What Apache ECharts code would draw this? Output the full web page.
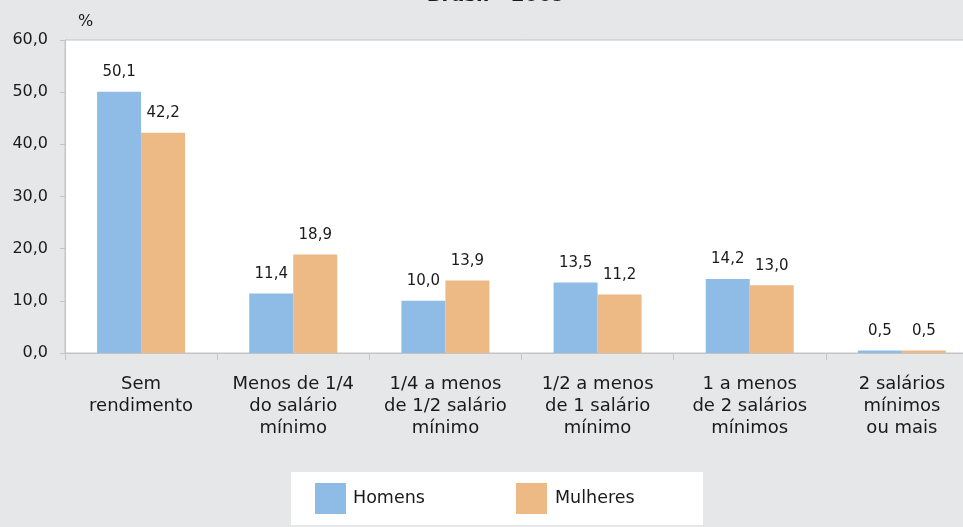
<!DOCTYPE html>
<html>
<head>
<meta charset="utf-8">
<script src="https://cdn.jsdelivr.net/npm/echarts@6/dist/echarts.min.js"></script>
<style>
  html, body { margin: 0; padding: 0; background: #e6e7e8; overflow: hidden; }
  #chart { width: 978px; height: 527px; }
</style>
</head>
<body>
<div id="chart"></div>
<script>
(function(){
  const categories = [
    'Sem\nrendimento',
    'Menos de 1/4\ndo salário\nmínimo',
    '1/4 a menos\nde 1/2 salário\nmínimo',
    '1/2 a menos\nde 1 salário\nmínimo',
    '1 a menos\nde 2 salários\nmínimos',
    '2 salários\nmínimos\nou mais'
  ];
  const homens   = [50.1, 11.4, 10.0, 13.5, 14.2, 0.5];
  const mulheres = [42.2, 18.9, 13.9, 11.2, 13.0, 0.5];

  const font = '"DejaVu Sans", sans-serif';
  const ink = '#1a1a1a';
  const gray = '#c4c4c4';
  const fmt = v => v.toFixed(1).replace('.', ',');

  const chart = echarts.init(document.getElementById('chart'), null, { renderer: 'canvas' });
  chart.setOption({
    animation: false,
    backgroundColor: '#e6e7e8',
    textStyle: { fontFamily: font, color: ink },
    title: {
      text: 'Brasil - 2009', left: 491, top: -19, textAlign: 'center',
      textStyle: { fontFamily: font, fontSize: 19.5, fontWeight: 'bold', color: ink }
    },
    grid: {
      left: 65, top: 40, width: 913, height: 313,
      show: true, backgroundColor: '#fff', borderColor: gray, borderWidth: 1
    },
    legend: [
      { data: ['Homens'], left: 310, top: 478, icon: 'rect', itemWidth: 31, itemHeight: 31,
        textStyle: { fontFamily: font, fontSize: 17.5, color: ink, padding: [0, 0, 0, 2] } },
      { data: ['Mulheres'], left: 511, top: 478, icon: 'rect', itemWidth: 31, itemHeight: 31,
        textStyle: { fontFamily: font, fontSize: 17.5, color: ink, padding: [0, 0, 0, 3] } }
    ],
    graphic: [{
      type: 'rect', left: 291, top: 472, z: -1,
      shape: { width: 412, height: 53 },
      style: { fill: '#fff' }
    }],
    xAxis: {
      type: 'category', data: categories,
      axisLine: { lineStyle: { color: gray } },
      axisTick: { show: true, length: 7, lineStyle: { color: gray } },
      axisLabel: { margin: 20, fontSize: 18, lineHeight: 22, color: ink, fontFamily: font, interval: 0 }
    },
    yAxis: {
      type: 'value', min: 0, max: 60, interval: 10,
      name: '%', nameLocation: 'end', nameGap: 10,
      nameTextStyle: { align: 'left', padding: [0, 0, 0, 13], fontSize: 16, color: ink, fontFamily: font },
      axisLine: { show: true, lineStyle: { color: gray } },
      axisTick: { show: true, length: 5, lineStyle: { color: gray } },
      splitLine: { show: false },
      axisLabel: { margin: 17, fontSize: 16, color: ink, fontFamily: font, formatter: fmt }
    },
    series: [
      { name: 'Homens', type: 'bar', data: homens, barWidth: 44, barGap: '0%',
        itemStyle: { color: '#8fbce6' },
        label: { show: true, position: 'top', distance: 12, fontSize: 15, color: ink, fontFamily: font,
                 formatter: p => fmt(p.value) } },
      { name: 'Mulheres', type: 'bar', data: mulheres, barWidth: 44, barGap: '0%',
        itemStyle: { color: '#edba85' },
        label: { show: true, position: 'top', distance: 12, fontSize: 15, color: ink, fontFamily: font,
                 formatter: p => fmt(p.value) } }
    ]
  });
})();
</script>
</body>
</html>
